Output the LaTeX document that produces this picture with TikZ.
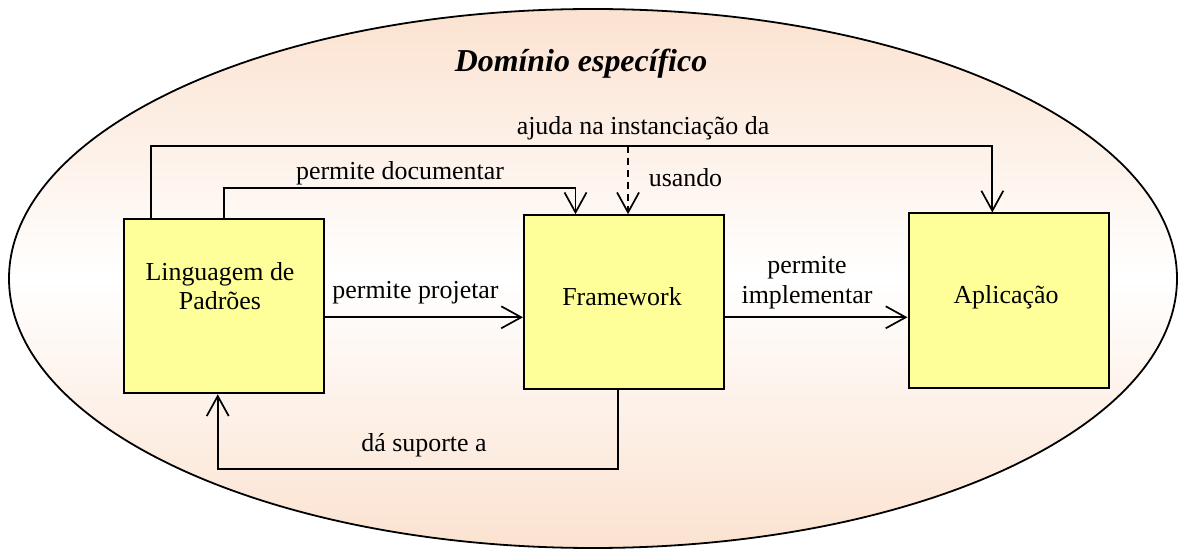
\documentclass[tikz,border=0pt]{standalone}
\usepackage{fontspec}
\setmainfont{Liberation Serif}
\usetikzlibrary{arrows.meta,calc}
\definecolor{peach}{RGB}{251,226,208}
\definecolor{boxyellow}{RGB}{255,255,153}

\begin{document}
\begin{tikzpicture}[x=1bp,y=-1bp,
  box/.style={draw=black, line width=2bp, fill=boxyellow,
    minimum width=200bp, minimum height=174bp, inner sep=0pt},
  lbl/.style={font=\fontsize{26}{30}\selectfont, inner sep=0pt, anchor=base, align=center},
  conn/.style={line width=1.7bp,
    -{Straight Barb[length=20bp,width=22bp,line width=1.7bp]}},
  dashconn/.style={conn, dash pattern=on 7bp off 5bp, line width=1.4bp}
]
\useasboundingbox (0,0) rectangle (1178,550);

% domain ellipse with vertical peach-white-peach shading
\shade[top color=peach, bottom color=peach, middle color=white]
  (593,278.5) ellipse [x radius=584, y radius=269.5];
\draw[line width=1.8bp] (593,278.5) ellipse [x radius=584, y radius=269.5];

\node[font=\fontsize{32}{36}\selectfont\bfseries\itshape, inner sep=0pt, anchor=base]
  (title) at (581,71.7) {Domínio específico};

% the three blocks
\node[box] (ling) at (223.8,306.3) {};
\node[box] (fw)   at (624,302.2) {};
\node[box] (apl)  at (1008.5,300.5) {};

% multi-line labels are anchored at the baseline of their last line
\node[lbl] (lingtxt) at (220,310) {Linguagem de\\Padrões};
\node[lbl] (fwtxt)   at (622,306) {Framework};
\node[lbl] (apltxt)  at (1006,304) {Aplicação};

% routing levels
\coordinate (lvlTop) at (0,145.7);
\coordinate (lvlDoc) at (0,187.7);
\coordinate (rowA)   at (0,317.3);
\coordinate (lvlSup) at (0,469.3);

% ajuda na instanciação da
\coordinate (o1) at ($(ling.north west)!0.14!(ling.north east)$);
\coordinate (o2) at ($(apl.north west)!0.42!(apl.north east)$);
\draw[conn] (o1) -- (o1 |- lvlTop) -| (o2);

% permite documentar
\coordinate (d1) at ($(fw.north west)!0.26!(fw.north east)$);
\draw[conn] (ling.north) -- (ling.north |- lvlDoc) -| (d1);

% usando
\coordinate (d2) at ($(fw.north west)!0.52!(fw.north east)$);
\draw[dashconn] (d2 |- lvlTop) -- (d2);

% permite projetar / permite implementar
\draw[conn] (ling.east |- rowA) -- (fw.west |- rowA);
\draw[conn] (fw.east |- rowA) -- (apl.west |- rowA);

% dá suporte a
\coordinate (s1) at ($(fw.south west)!0.47!(fw.south east)$);
\coordinate (s2) at ($(ling.south west)!0.47!(ling.south east)$);
\draw[conn] (s1) -- (s1 |- lvlSup) -| (s2);

% connector labels
\node[lbl] (l-ajuda) at (643,135) {ajuda na instanciação da};
\node[lbl] (l-doc)   at (400,180) {permite documentar};
\node[lbl] (l-usa)   at (685.5,187) {usando};
\node[lbl] (l-proj)  at (415.5,298.3) {permite projetar};
\node[lbl] (l-impl)  at (807,303.3) {permite\\implementar};
\node[lbl] (l-sup)   at (424,451.7) {dá suporte a};
\end{tikzpicture}
\end{document}
